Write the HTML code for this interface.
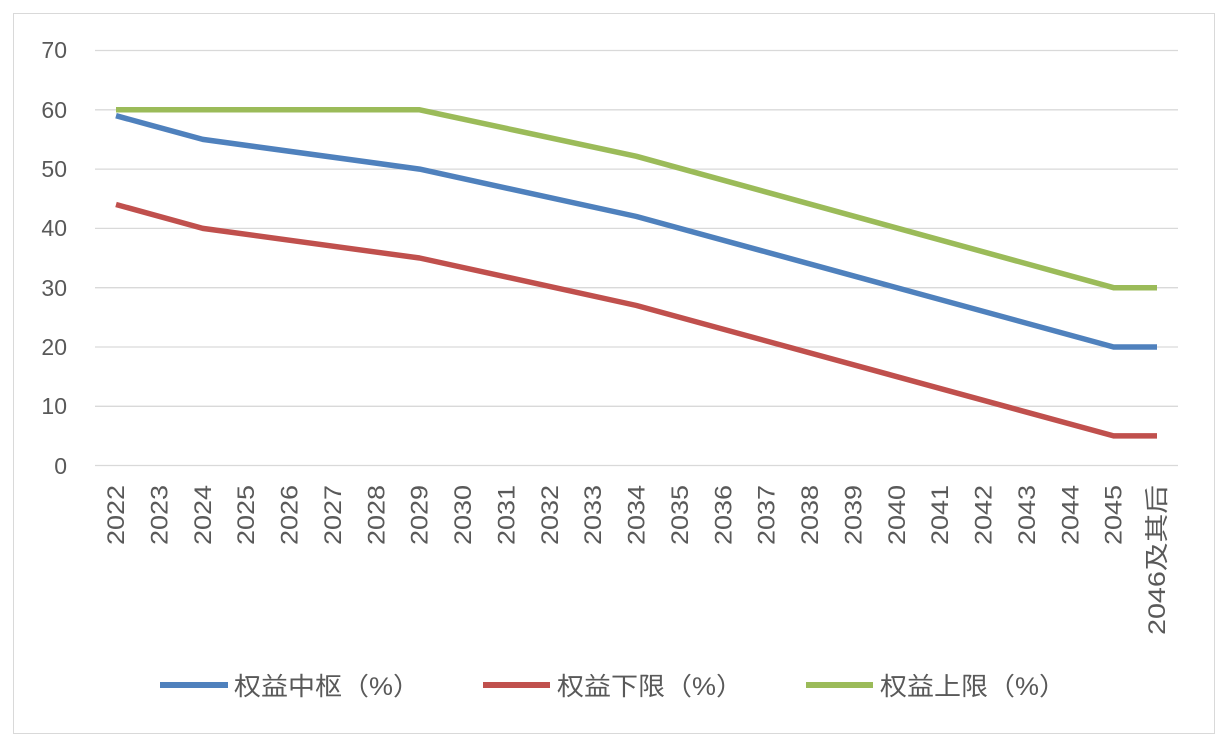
<!DOCTYPE html>
<html><head><meta charset="utf-8"><style>
html,body{margin:0;padding:0;background:#fff;}
svg{display:block;}
text{font-family:"Liberation Sans","Noto Sans CJK SC",sans-serif;fill:#595959;}
</style></head><body>
<svg width="1228" height="748" viewBox="0 0 1228 748">
<rect x="13.5" y="13.5" width="1201" height="720" fill="#fff" stroke="#d9d9d9" stroke-width="1"/>
<g stroke="#d9d9d9" stroke-width="1.3">
<line x1="95" x2="1178" y1="50.5" y2="50.5"/>
<line x1="95" x2="1178" y1="109.8" y2="109.8"/>
<line x1="95" x2="1178" y1="169.1" y2="169.1"/>
<line x1="95" x2="1178" y1="228.4" y2="228.4"/>
<line x1="95" x2="1178" y1="287.7" y2="287.7"/>
<line x1="95" x2="1178" y1="347" y2="347"/>
<line x1="95" x2="1178" y1="406.3" y2="406.3"/>
<line x1="95" x2="1178" y1="465.5" y2="465.5"/>
</g>
<g font-size="23" text-anchor="end">
<text x="67" y="58">70</text><text x="67" y="118">60</text><text x="67" y="177">50</text>
<text x="67" y="236">40</text><text x="67" y="296">30</text><text x="67" y="355">20</text>
<text x="67" y="414">10</text><text x="67" y="474">0</text>
</g>
<g font-size="24" text-anchor="end" id="xl"></g>
<polyline fill="none" stroke="#9bbb59" stroke-width="5.5" stroke-linejoin="round" points="116,109.8 419.6,109.8 636.5,156.3 1113.6,287.7 1157,287.7"/>
<polyline fill="none" stroke="#4f81bd" stroke-width="5.5" stroke-linejoin="round" points="116,115.7 202.8,139.4 419.6,169.1 636.5,216.5 1113.6,347 1157,347"/>
<polyline fill="none" stroke="#c0504d" stroke-width="5.5" stroke-linejoin="round" points="116,204.5 202.8,228.4 419.6,258 636.5,305.5 1113.6,435.9 1157,435.9"/>
<line x1="160" x2="228" y1="685" y2="685" stroke="#4f81bd" stroke-width="6"/>
<line x1="483" x2="550" y1="685" y2="685" stroke="#c0504d" stroke-width="6"/>
<line x1="806" x2="873" y1="685" y2="685" stroke="#9bbb59" stroke-width="6"/>
<g font-size="25">
<text x="234" y="695" textLength="186" lengthAdjust="spacingAndGlyphs">权益中枢（%）</text>
<text x="557" y="695" textLength="186" lengthAdjust="spacingAndGlyphs">权益下限（%）</text>
<text x="880" y="695" textLength="186" lengthAdjust="spacingAndGlyphs">权益上限（%）</text>
</g>
</svg>
<script>
var g=document.getElementById('xl'),ns='http://www.w3.org/2000/svg';
for(var i=0;i<=24;i++){var x=116+i*43.375+8,y=485;var t=document.createElementNS(ns,'text');
t.setAttribute('transform','translate('+x+','+y+') rotate(-90)');t.setAttribute('x',0);t.setAttribute('y',0);
t.setAttribute('textLength',i<24?'60':'150');t.setAttribute('lengthAdjust','spacingAndGlyphs');
t.textContent=i<24?String(2022+i):'2046及其后';g.appendChild(t);}
</script>
</body></html>
